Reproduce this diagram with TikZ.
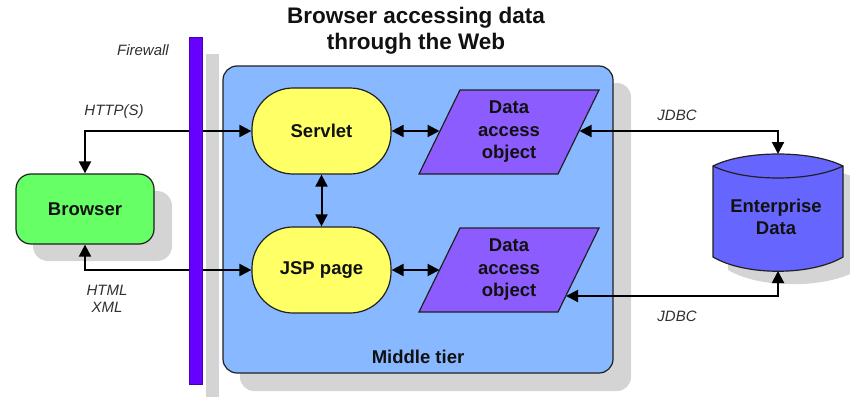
\documentclass[tikz,border=0pt]{standalone}
\usepackage{fontspec}
\setmainfont{Liberation Sans}
\usetikzlibrary{arrows.meta,calc}

\definecolor{tierblue}{HTML}{88B8FF}
\definecolor{browsergreen}{HTML}{66FF66}
\definecolor{servletyellow}{HTML}{FFFF66}
\definecolor{daoviolet}{HTML}{8D5CFF}
\definecolor{dbblue}{HTML}{6666FF}
\definecolor{wallpurple}{HTML}{6600FF}
\definecolor{shadowgray}{HTML}{D4D4D4}
\definecolor{edgegray}{HTML}{202020}
\definecolor{textdark}{HTML}{111111}
\definecolor{labelgray}{HTML}{303030}

\begin{document}
\begin{tikzpicture}[x=1pt,y=-1pt,
  outline/.style={draw=edgegray, line width=1.2pt},
  boldlabel/.style={font=\fontsize{18.5}{22.5}\selectfont\bfseries, text=textdark, align=center},
  italabel/.style={font=\fontsize{15}{17}\selectfont\itshape, text=labelgray, align=center},
  conn/.style={line width=2pt, draw=black,
    {Triangle[length=12pt,width=12pt]}-{Triangle[length=12pt,width=12pt]}},
  shadowfill/.style={fill=shadowgray, draw=none},
]
\useasboundingbox (0,0) rectangle (850,396);

% title
\node[font=\fontsize{22.5}{26}\selectfont\bfseries, text=textdark, align=center] (title) at (416,31)
  {Browser accessing data\\through the Web};

% drop shadows
\fill[shadowgray] (206,54) rectangle (219,400);
\fill[shadowgray, rounded corners=14pt] (240,83) rectangle (631,391);
\fill[shadowgray, rounded corners=15pt] (33,191) rectangle (172,261);
\fill[shadowgray] (728,179) .. controls (760,163) and (826,163) .. (858,179)
  -- (858,270) .. controls (826,289) and (760,289) .. (728,270) -- cycle;

% middle tier container
\node[outline, fill=tierblue, rounded corners=14pt, minimum width=390pt, minimum height=307pt] (tier) at (418,219.5) {};
\node[boldlabel] (tierlabel) at (418,357) {Middle tier};

% browser
\node[outline, fill=browsergreen, rounded corners=15pt, minimum width=138pt, minimum height=70pt, boldlabel] (browser) at (85,209) {Browser};

% servlet and JSP page
\node[outline, fill=servletyellow, rounded corners=41pt, minimum width=139pt, minimum height=86pt, boldlabel] (servlet) at (321.5,131) {Servlet};
\node[outline, fill=servletyellow, rounded corners=41pt, minimum width=139pt, minimum height=86pt, boldlabel] (jsp) at (321.5,270) {JSP page};

% data access objects (parallelograms)
\filldraw[outline, fill=daoviolet] (419,174) -- (460,90) -- (599,90) -- (558,174) -- cycle;
\node[boldlabel] (dao1) at (509,132) {Data\\access\\object};
\coordinate (dao1w) at (439.5,131);
\coordinate (dao1e) at (579.5,131);

\filldraw[outline, fill=daoviolet] (419,312) -- (460,228) -- (599,228) -- (558,312) -- cycle;
\node[boldlabel] (dao2) at (509,270) {Data\\access\\object};
\coordinate (dao2w) at (439.5,270);
\coordinate (dao2e) at (566,296);

% enterprise data store (cylinder)
\filldraw[outline, fill=dbblue] (713,166) .. controls (745,150) and (811,150) .. (843,166)
  -- (843,257) .. controls (811,276) and (745,276) .. (713,257) -- cycle;
\draw[outline] (713,166) .. controls (745,182) and (811,182) .. (843,166);
\node[boldlabel] (ent) at (776,217) {Enterprise\\Data};
\coordinate (entTop) at (778,154);
\coordinate (entBot) at (778,271);

% connectors
\draw[conn] (browser.north) |- (servlet.west);
\draw[conn] (browser.south) |- (jsp.west);
\draw[conn] (servlet.south) -- (jsp.north);
\draw[conn] (servlet.east) -- (dao1w);
\draw[conn] (jsp.east) -- (dao2w);
\draw[conn] (dao1e) -| (entTop);
\draw[conn] (dao2e) -| (entBot);

% firewall
\node[fill=wallpurple, draw=wallpurple!70!black, line width=0.6pt, minimum width=13pt, minimum height=347pt, inner sep=0pt] (wall) at (195.5,210.5) {};

% connector and firewall labels
\node[italabel] (wallnote) at (143,50) {Firewall};
\node[italabel] (httpnote) at (114,112) {HTTP(S)};
\node[italabel] (htmlnote) at (107,298.5) {HTML\\XML};
\node[italabel] (jdbctop) at (677,115) {JDBC};
\node[italabel] (jdbcbot) at (677,316) {JDBC};
\end{tikzpicture}
\end{document}
